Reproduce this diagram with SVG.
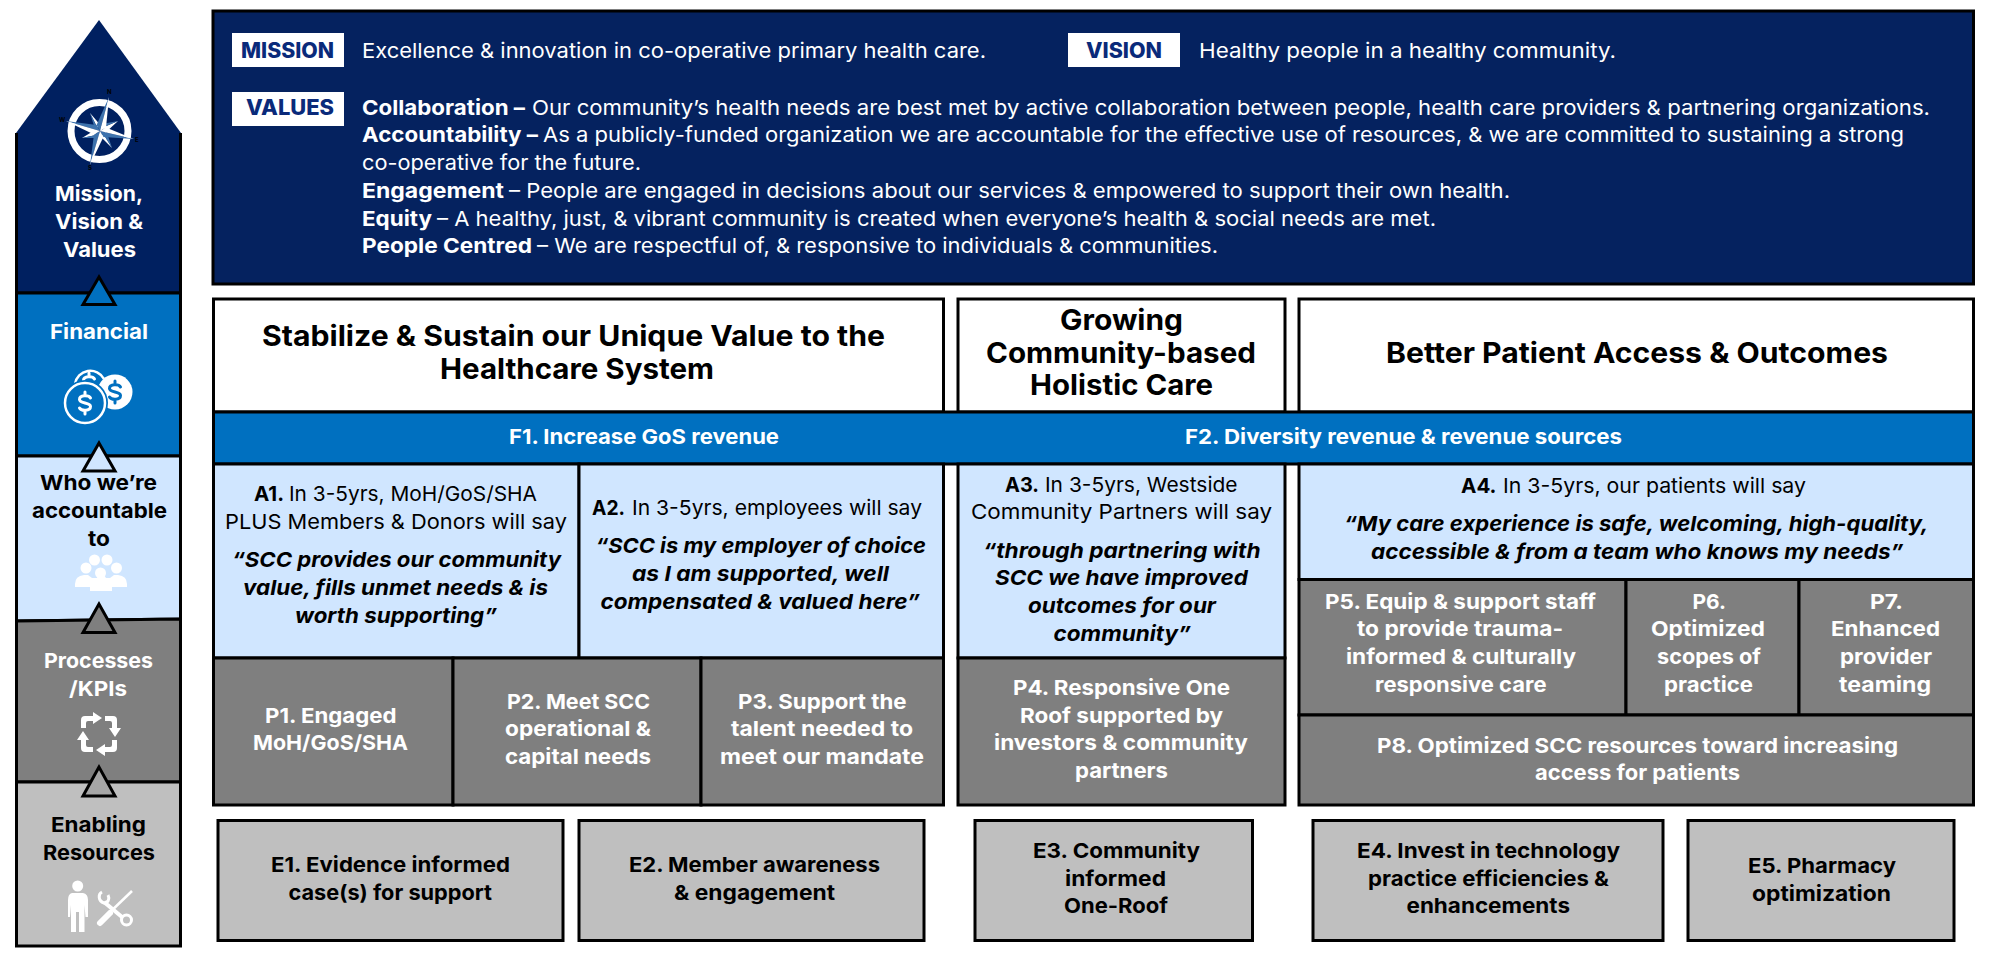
<svg xmlns="http://www.w3.org/2000/svg" width="2000" height="975" viewBox="0 0 2000 975">
<style>
text{font-family:"Inter","Open Sans","Liberation Sans",sans-serif;font-size:20.5px;fill:#000}
.w{fill:#fff}.b{font-weight:700}.m{font-weight:700}.i{font-weight:700;font-style:italic}
.n{fill:#0a2a7a;font-weight:800;font-size:21px}
.h{font-size:28.500px;font-weight:700}
.box{stroke:#000;stroke-width:3}
.navy{fill:#002060}.top{fill:#05225f}.blue{fill:#0070c0}.light{fill:#d0e6ff}.gray{fill:#7f7f7f}.lg{fill:#bfbfbf}
.ln{stroke:#000;stroke-width:3;fill:none}
.tri{stroke:#000;stroke-width:3;stroke-linejoin:miter}
.dol{fill:none;stroke-width:3;stroke-linecap:round}
.ic{fill:#fff}
.cl{font-size:6px;font-weight:700}
</style>
<defs>
<path id="dollar" d="M5.500,-5C4,-8 -5.500,-8.500 -5.500,-3.500C-5.500,1 5.500,-1 5.500,3.500C5.500,8.500 -4,8 -5.500,5M0,-11V-7.500M0,7.500V11"/>
<path id="rec" d="M-18,-6V-14Q-18,-18 -14,-18H-6V-22L3,-16L-6,-10V-13H-11Q-13,-13 -13,-11V-6Z"/>
</defs>

<g id="pillar-mission">
<path class="navy" d="M16,133L99,20L181,133V293H16Z"/>
<path class="ln" d="M16.500,133V293M180.500,133V293M16,293H181"/>
<circle cx="99.500" cy="131" r="28.500" fill="none" stroke="#fff" stroke-width="7"/>
<g id="compass-star">
<path fill="#fff" d="M90,113L97,127L102,127Z"/><path fill="#3d72ad" d="M90,113L97,127L95,129Z"/>
<path fill="#fff" d="M118,121L104,127L105,133Z"/>
<path fill="#3d72ad" d="M118,121L104,127L102,124Z"/>
<path fill="#fff" d="M112,148L104,135L99,135Z"/>
<path fill="#3d72ad" d="M112,148L104,135L107,133Z"/>
<path fill="#fff" d="M82,138L96,135L95,130Z"/>
<path fill="#3d72ad" d="M82,138L96,135L98,138Z"/>
<path fill="#3d72ad" d="M109,97L96.600,125L100,131Z"/><path fill="#fff" d="M109,97L106,127.400L100,131Z"/>
<path fill="#3d72ad" d="M134,139L103.400,137L100,131Z"/><path fill="#fff" d="M134,139L106,127.400L100,131Z"/>
<path fill="#3d72ad" d="M90,165L94,134.600L100,131Z"/><path fill="#fff" d="M90,165L103.400,137L100,131Z"/>
<path fill="#3d72ad" d="M66,121L96.600,125L100,131Z"/><path fill="#fff" d="M66,121L94,134.600L100,131Z"/>
</g>
<text class="cl" x="107" y="94">N</text><text class="cl" x="59" y="122">W</text><text class="cl" x="135" y="142">E</text><text class="cl" x="88" y="170">S</text>
<text class="w b" x="55" y="201" textLength="88" lengthAdjust="spacingAndGlyphs">Mission,</text>
<text class="w b" x="55" y="229" textLength="88" lengthAdjust="spacingAndGlyphs">Vision &amp;</text>
<text class="w b" x="63" y="257" textLength="73" lengthAdjust="spacingAndGlyphs">Values</text>
</g>

<g id="pillar-financial">
<rect class="blue box" x="16.500" y="293" width="164" height="163"/>
<text class="w b" x="50" y="339" textLength="98" lengthAdjust="spacingAndGlyphs">Financial</text>
<path d="M75,384A15.500,15.500 0 0 1 104,379" fill="none" stroke="#fff" stroke-width="2.500"/>
<use href="#dollar" x="89" y="384" class="dol" stroke="#fff"/>
<circle cx="115" cy="392" r="17.500" fill="#fff"/>
<use href="#dollar" x="115" y="392" class="dol" stroke="#0070c0"/>
<circle cx="85" cy="403" r="23" fill="#0070c0"/>
<circle cx="85" cy="403" r="20" fill="none" stroke="#fff" stroke-width="2.500"/>
<use href="#dollar" x="85" y="403" class="dol" stroke="#fff" stroke-width="3.500"/>
</g>

<g id="pillar-accountable">
<path class="light box" d="M16.500,456H180.500V619L16.500,621Z"/>
<text class="b" x="40" y="490" textLength="117" lengthAdjust="spacingAndGlyphs">Who we’re</text>
<text class="b" x="32" y="518" textLength="135" lengthAdjust="spacingAndGlyphs">accountable</text>
<text class="b" x="88" y="546" textLength="22" lengthAdjust="spacingAndGlyphs">to</text>
<g class="ic">
<circle cx="94.500" cy="560" r="5.500"/><circle cx="107" cy="560" r="5.500"/><circle cx="86" cy="568" r="5.500"/><circle cx="116.500" cy="568" r="5.500"/><circle cx="100.500" cy="573" r="5.500"/>
<path d="M75,587V584Q75,576 84,575H88L92,578H97L100,572H102L106,578H110L114,575H118Q127,576 127,584V587H112V591H90V587Z"/>
<path d="M90.500,591V590Q90.500,580 100.500,580Q111,580 111,590V591Z"/>
</g>
</g>

<g id="pillar-processes">
<path class="gray box" d="M16.500,621L180.500,619V782H16.500Z"/>
<text class="w b" x="44" y="668" textLength="109" lengthAdjust="spacingAndGlyphs">Processes</text>
<text class="w b" x="69" y="696" textLength="58" lengthAdjust="spacingAndGlyphs">/KPIs</text>
<g transform="translate(99 734)">
<use href="#rec" class="ic"/><use href="#rec" class="ic" transform="rotate(90)"/><use href="#rec" class="ic" transform="rotate(180)"/><use href="#rec" class="ic" transform="rotate(270)"/>
</g>
</g>

<g id="pillar-enabling">
<rect class="lg box" x="16.500" y="782" width="164" height="164"/>
<text class="b" x="51" y="832" textLength="95" lengthAdjust="spacingAndGlyphs">Enabling</text>
<text class="b" x="43" y="860" textLength="112" lengthAdjust="spacingAndGlyphs">Resources</text>
<g class="ic">
<circle cx="77.700" cy="886" r="5.500"/>
<path d="M72,893H83Q88,894 88,900V917H85.500L84.500,905V932H79V912H76V932H71V905L70,917H68V900Q68,894 72,893Z"/>
</g>
<g fill="none" stroke="#fff">
<path d="M106,916L132,891" stroke-width="2.500"/><path d="M100,923L110,913" stroke-width="6" stroke-linecap="round"/>
<path d="M104,902L122,917" stroke-width="4"/>
<path d="M102,892C98,894 98,901 104,903C108,903 110,899 108,895" stroke-width="3"/>
<circle cx="126.500" cy="920" r="5" stroke-width="3"/>
</g>
</g>

<g id="connectors">
<path class="tri" style="fill:#0070c0" d="M99,277L83,304.500H115Z"/>
<path class="light tri" d="M99,443L83,471H115Z"/>
<path class="gray tri" d="M99,604L83,632.500H115Z"/>
<path class="tri" style="fill:#a6a6a6" d="M99,767L83,796H115Z"/>
</g>

<g id="mvv-panel">
<rect class="top box" x="213" y="11" width="1760.500" height="273"/>
<rect x="232" y="33" width="112" height="34" fill="#fff"/>
<text class="n" x="241" y="58" textLength="93" lengthAdjust="spacingAndGlyphs">MISSION</text>
<text class="w" x="362" y="58" textLength="624" lengthAdjust="spacingAndGlyphs">Excellence &amp; innovation in co-operative primary health care.</text>
<rect x="1068" y="33" width="112" height="34" fill="#fff"/>
<text class="n" x="1086" y="58" textLength="76" lengthAdjust="spacingAndGlyphs">VISION</text>
<text class="w" x="1199" y="58" textLength="417" lengthAdjust="spacingAndGlyphs">Healthy people in a healthy community.</text>
<rect x="232" y="92" width="112" height="34" fill="#fff"/>
<text class="n" x="246" y="115" textLength="88" lengthAdjust="spacingAndGlyphs">VALUES</text>
<text class="w b" x="362" y="115" textLength="163" lengthAdjust="spacingAndGlyphs">Collaboration –</text>
<text class="w" x="532" y="115" textLength="1398" lengthAdjust="spacingAndGlyphs">Our community’s health needs are best met by active collaboration between people, health care providers &amp; partnering organizations.</text>
<text class="w b" x="362" y="142" textLength="176" lengthAdjust="spacingAndGlyphs">Accountability –</text>
<text class="w" x="543" y="142" textLength="1361" lengthAdjust="spacingAndGlyphs">As a publicly-funded organization we are accountable for the effective use of resources, &amp; we are committed to sustaining a strong</text>
<text class="w" x="362" y="170" textLength="279" lengthAdjust="spacingAndGlyphs">co-operative for the future.</text>
<text class="w b" x="362" y="198" textLength="142" lengthAdjust="spacingAndGlyphs">Engagement</text>
<text class="w" x="509" y="198" textLength="1001" lengthAdjust="spacingAndGlyphs">– People are engaged in decisions about our services &amp; empowered to support their own health.</text>
<text class="w b" x="362" y="226" textLength="70" lengthAdjust="spacingAndGlyphs">Equity</text>
<text class="w" x="437" y="226" textLength="999" lengthAdjust="spacingAndGlyphs">– A healthy, just, &amp; vibrant community is created when everyone’s health &amp; social needs are met.</text>
<text class="w b" x="362" y="253" textLength="170" lengthAdjust="spacingAndGlyphs">People Centred</text>
<text class="w" x="537" y="253" textLength="681" lengthAdjust="spacingAndGlyphs">– We are respectful of, &amp; responsive to individuals &amp; communities.</text>
</g>

<g id="h1">
<rect class="box" fill="#fff" x="213.500" y="299" width="730" height="113"/>
<text class="h" x="262" y="346" textLength="623" lengthAdjust="spacingAndGlyphs">Stabilize &amp; Sustain our Unique Value to the</text>
<text class="h" x="440" y="379" textLength="274" lengthAdjust="spacingAndGlyphs">Healthcare System</text>
</g>
<g id="h2">
<rect class="box" fill="#fff" x="958" y="299" width="327" height="113"/>
<text class="h" x="1060" y="330" textLength="123" lengthAdjust="spacingAndGlyphs">Growing</text>
<text class="h" x="986" y="363" textLength="270" lengthAdjust="spacingAndGlyphs">Community-based</text>
<text class="h" x="1030" y="395" textLength="183" lengthAdjust="spacingAndGlyphs">Holistic Care</text>
</g>
<g id="h3">
<rect class="box" fill="#fff" x="1299" y="299" width="674.500" height="113"/>
<text class="h" x="1386" y="363" textLength="502" lengthAdjust="spacingAndGlyphs">Better Patient Access &amp; Outcomes</text>
</g>

<g id="f-band">
<rect class="blue box" x="213.500" y="412" width="1760" height="52"/>
<text class="w b" x="509" y="444" textLength="270" lengthAdjust="spacingAndGlyphs">F1. Increase GoS revenue</text>
<text class="w b" x="1185" y="444" textLength="437" lengthAdjust="spacingAndGlyphs">F2. Diversity revenue &amp; revenue sources</text>
</g>

<g id="a1">
<rect class="light box" x="213.500" y="464" width="365.500" height="194"/>
<text class="b" x="254" y="501" textLength="30" lengthAdjust="spacingAndGlyphs">A1.</text>
<text x="289" y="501" textLength="248" lengthAdjust="spacingAndGlyphs">In 3-5yrs, MoH/GoS/SHA</text>
<text x="225" y="529" textLength="342" lengthAdjust="spacingAndGlyphs">PLUS Members &amp; Donors will say</text>
<text class="i" x="232" y="567" textLength="329" lengthAdjust="spacingAndGlyphs">“SCC provides our community</text>
<text class="i" x="243" y="595" textLength="305" lengthAdjust="spacingAndGlyphs">value, fills unmet needs &amp; is</text>
<text class="i" x="295" y="623" textLength="202" lengthAdjust="spacingAndGlyphs">worth supporting”</text>
</g>
<g id="a2">
<rect class="light box" x="579" y="464" width="364.500" height="194"/>
<text class="b" x="592" y="515" textLength="33" lengthAdjust="spacingAndGlyphs">A2.</text>
<text x="632" y="515" textLength="290" lengthAdjust="spacingAndGlyphs">In 3-5yrs, employees will say</text>
<text class="i" x="595.500" y="553" textLength="330.500" lengthAdjust="spacingAndGlyphs">“SCC is my employer of choice</text>
<text class="i" x="632" y="581" textLength="257" lengthAdjust="spacingAndGlyphs">as I am supported, well</text>
<text class="i" x="600.500" y="609" textLength="319.500" lengthAdjust="spacingAndGlyphs">compensated &amp; valued here”</text>
</g>
<g id="a3">
<rect class="light box" x="958" y="464" width="327" height="194"/>
<text class="b" x="1005" y="492" textLength="34" lengthAdjust="spacingAndGlyphs">A3.</text>
<text x="1045" y="492" textLength="192.500" lengthAdjust="spacingAndGlyphs">In 3-5yrs, Westside</text>
<text x="971" y="519" textLength="301" lengthAdjust="spacingAndGlyphs">Community Partners will say</text>
<text class="i" x="983" y="558" textLength="277.500" lengthAdjust="spacingAndGlyphs">“through partnering with</text>
<text class="i" x="995" y="585" textLength="253" lengthAdjust="spacingAndGlyphs">SCC we have improved</text>
<text class="i" x="1028" y="613" textLength="188" lengthAdjust="spacingAndGlyphs">outcomes for our</text>
<text class="i" x="1053.600" y="641" textLength="137.400" lengthAdjust="spacingAndGlyphs">community”</text>
</g>
<g id="a4">
<rect class="light box" x="1299" y="464" width="674.500" height="115.500"/>
<text class="b" x="1461" y="493" textLength="35.500" lengthAdjust="spacingAndGlyphs">A4.</text>
<text x="1503" y="493" textLength="303" lengthAdjust="spacingAndGlyphs">In 3-5yrs, our patients will say</text>
<text class="i" x="1344" y="531" textLength="584.500" lengthAdjust="spacingAndGlyphs">“My care experience is safe, welcoming, high-quality,</text>
<text class="i" x="1371" y="559" textLength="532.500" lengthAdjust="spacingAndGlyphs">accessible &amp; from a team who knows my needs”</text>
</g>

<g id="p1">
<rect class="gray box" x="213.500" y="658" width="239.500" height="147"/>
<text class="w m" x="265" y="723" textLength="131.500" lengthAdjust="spacingAndGlyphs">P1. Engaged</text>
<text class="w m" x="253" y="750" textLength="155" lengthAdjust="spacingAndGlyphs">MoH/GoS/SHA</text>
</g>
<g id="p2">
<rect class="gray box" x="453" y="658" width="248" height="147"/>
<text class="w m" x="507" y="709" textLength="143" lengthAdjust="spacingAndGlyphs">P2. Meet SCC</text>
<text class="w m" x="505" y="736" textLength="146" lengthAdjust="spacingAndGlyphs">operational &amp;</text>
<text class="w m" x="505" y="764" textLength="146" lengthAdjust="spacingAndGlyphs">capital needs</text>
</g>
<g id="p3">
<rect class="gray box" x="701" y="658" width="242.500" height="147"/>
<text class="w m" x="738" y="709" textLength="168.500" lengthAdjust="spacingAndGlyphs">P3. Support the</text>
<text class="w m" x="731" y="736" textLength="182" lengthAdjust="spacingAndGlyphs">talent needed to</text>
<text class="w m" x="720" y="764" textLength="204" lengthAdjust="spacingAndGlyphs">meet our mandate</text>
</g>
<g id="p4">
<rect class="gray box" x="958" y="658" width="327" height="147"/>
<text class="w m" x="1013" y="695" textLength="217" lengthAdjust="spacingAndGlyphs">P4. Responsive One</text>
<text class="w m" x="1020" y="723" textLength="203" lengthAdjust="spacingAndGlyphs">Roof supported by</text>
<text class="w m" x="994" y="750" textLength="254" lengthAdjust="spacingAndGlyphs">investors &amp; community</text>
<text class="w m" x="1075" y="778" textLength="93" lengthAdjust="spacingAndGlyphs">partners</text>
</g>
<g id="p5">
<rect class="gray box" x="1299" y="579.500" width="327" height="135.500"/>
<text class="w m" x="1325" y="609" textLength="271" lengthAdjust="spacingAndGlyphs">P5. Equip &amp; support staff</text>
<text class="w m" x="1357" y="636" textLength="206" lengthAdjust="spacingAndGlyphs">to provide trauma-</text>
<text class="w m" x="1346" y="664" textLength="230" lengthAdjust="spacingAndGlyphs">informed &amp; culturally</text>
<text class="w m" x="1375" y="692" textLength="171.500" lengthAdjust="spacingAndGlyphs">responsive care</text>
</g>
<g id="p6">
<rect class="gray box" x="1626" y="579.500" width="173" height="135.500"/>
<text class="w m" x="1692.500" y="609" textLength="33.500" lengthAdjust="spacingAndGlyphs">P6.</text>
<text class="w m" x="1651" y="636" textLength="114" lengthAdjust="spacingAndGlyphs">Optimized</text>
<text class="w m" x="1657" y="664" textLength="104" lengthAdjust="spacingAndGlyphs">scopes of</text>
<text class="w m" x="1664" y="692" textLength="89" lengthAdjust="spacingAndGlyphs">practice</text>
</g>
<g id="p7">
<rect class="gray box" x="1799" y="579.500" width="174.500" height="135.500"/>
<text class="w m" x="1870" y="609" textLength="33" lengthAdjust="spacingAndGlyphs">P7.</text>
<text class="w m" x="1831" y="636" textLength="109" lengthAdjust="spacingAndGlyphs">Enhanced</text>
<text class="w m" x="1840" y="664" textLength="92" lengthAdjust="spacingAndGlyphs">provider</text>
<text class="w m" x="1839" y="692" textLength="92" lengthAdjust="spacingAndGlyphs">teaming</text>
</g>
<g id="p8">
<rect class="gray box" x="1299" y="715" width="674.500" height="90"/>
<text class="w m" x="1377" y="753" textLength="521" lengthAdjust="spacingAndGlyphs">P8. Optimized SCC resources toward increasing</text>
<text class="w m" x="1535" y="780" textLength="205" lengthAdjust="spacingAndGlyphs">access for patients</text>
</g>

<g id="e1">
<rect class="lg box" x="218" y="820.500" width="345" height="120"/>
<text class="m" x="271" y="872" textLength="239" lengthAdjust="spacingAndGlyphs">E1. Evidence informed</text>
<text class="m" x="288.500" y="900" textLength="203.500" lengthAdjust="spacingAndGlyphs">case(s) for support</text>
</g>
<g id="e2">
<rect class="lg box" x="579" y="820.500" width="345" height="120"/>
<text class="m" x="629" y="872" textLength="251" lengthAdjust="spacingAndGlyphs">E2. Member awareness</text>
<text class="m" x="674" y="900" textLength="161" lengthAdjust="spacingAndGlyphs">&amp; engagement</text>
</g>
<g id="e3">
<rect class="lg box" x="975" y="820.500" width="277.500" height="120"/>
<text class="m" x="1033" y="858" textLength="167" lengthAdjust="spacingAndGlyphs">E3. Community</text>
<text class="m" x="1065" y="886" textLength="101" lengthAdjust="spacingAndGlyphs">informed</text>
<text class="m" x="1064" y="913" textLength="104" lengthAdjust="spacingAndGlyphs">One-Roof</text>
</g>
<g id="e4">
<rect class="lg box" x="1313" y="820.500" width="350" height="120"/>
<text class="m" x="1357" y="858" textLength="263" lengthAdjust="spacingAndGlyphs">E4. Invest in technology</text>
<text class="m" x="1368" y="886" textLength="241" lengthAdjust="spacingAndGlyphs">practice efficiencies &amp;</text>
<text class="m" x="1406.500" y="913" textLength="163.500" lengthAdjust="spacingAndGlyphs">enhancements</text>
</g>
<g id="e5">
<rect class="lg box" x="1688" y="820.500" width="266" height="120"/>
<text class="m" x="1748" y="873" textLength="148" lengthAdjust="spacingAndGlyphs">E5. Pharmacy</text>
<text class="m" x="1752" y="901" textLength="139" lengthAdjust="spacingAndGlyphs">optimization</text>
</g>
</svg>
